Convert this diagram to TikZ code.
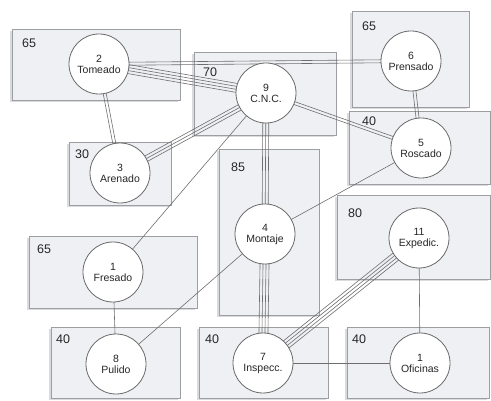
\documentclass[tikz,border=0pt]{standalone}
\usepackage{fontspec}
\setmainfont{Liberation Sans}
\usetikzlibrary{calc}
\pgfdeclarelayer{boxes}
\pgfdeclarelayer{links}
\pgfsetlayers{boxes,links,main}
\definecolor{boxfill}{HTML}{EEF0F3}
\definecolor{boxline}{HTML}{9C9EA2}
\definecolor{boxshade}{HTML}{D9DBDE}
\definecolor{linkgray}{HTML}{6E6E6E}
\definecolor{ringgray}{HTML}{6A6A6A}
\tikzset{
  area/.style={draw=boxline, fill=boxfill, line width=0.8pt},
  areashade/.style={fill=boxshade},
  arealabel/.style={anchor=base west, inner sep=0pt, text=black!85,
    font=\fontsize{12.5}{14}\selectfont},
  station/.style={circle, draw=ringgray, fill=white, line width=0.8pt,
    minimum size=60pt, inner sep=0pt, align=center, text=black!85,
    font=\fontsize{10.5}{11}\selectfont},
  link/.style={draw=linkgray, line width=0.6pt},
}
% a bundle of parallel links between two stations, one per offset
\newcommand\bundle[3]{%
  \foreach \o in {#1}{%
    \draw[link] ($(#2)!\o pt!90:(#3)$) -- ($(#3)!\o pt!-90:(#2)$);
  }%
}
% a department area with its drop shade
\newcommand\area[4]{%
  \fill[areashade] (#1-2,#2+2.5) rectangle (#3-2,#4+2.5);
  \draw[area] (#1,#2) rectangle (#3,#4);
}
\begin{document}
\begin{tikzpicture}[x=1pt,y=-1pt]
\useasboundingbox (0,0) rectangle (491,401);

% department areas
\begin{pgfonlayer}{boxes}
  \area{12}{29}{180}{100}
  \area{194}{52}{336}{135}
  \area{69}{142}{171}{205}
  \area{219}{149}{319}{315}
  \area{352}{11}{469}{107}
  \area{349}{111}{490}{184}
  \area{337}{195}{490}{279}
  \area{29}{236}{197}{308}
  \area{51}{327}{180}{398}
  \area{199}{327}{328}{398}
  \area{347}{327}{489}{398}
  \node[arealabel] (l65a) at (22,48)  {65};
  \node[arealabel] (l70)  at (203,77) {70};
  \node[arealabel] (l30)  at (75,159) {30};
  \node[arealabel] (l85)  at (231,172) {85};
  \node[arealabel] (l65b) at (362,31) {65};
  \node[arealabel] (l40a) at (362,126) {40};
  \node[arealabel] (l80)  at (348,218) {80};
  \node[arealabel] (l65c) at (37,254) {65};
  \node[arealabel] (l40b) at (56,344) {40};
  \node[arealabel] (l40c) at (205,344) {40};
  \node[arealabel] (l40d) at (352,344) {40};
\end{pgfonlayer}

% stations
\node[station] (tom) at (99,64)   {2\\Tomeado};
\node[station] (cnc) at (266,93)  {9\\C.N.C.};
\node[station] (are) at (120,173) {3\\Arenado};
\node[station] (pre) at (411,61)  {6\\Prensado};
\node[station] (ros) at (421,148) {5\\Roscado};
\node[station] (mon) at (265,234) {4\\Montaje};
\node[station] (fre) at (113,272) {1\\Fresado};
\node[station] (pul) at (116,364) {8\\Pulido};
\node[station] (ins) at (263,363) {7\\Inspecc.};
\node[station] (exp) at (419,238) {11\\Expedic.};
\node[station] (ofi) at (420,363) {1\\Oficinas};

% links, drawn centre to centre beneath the stations
\begin{pgfonlayer}{links}
  \bundle{-4.5,-1.5,1.5,4.5}{tom}{cnc}
  \bundle{-1.5,1.5}{tom}{pre}
  \bundle{-1.5,1.5}{tom}{are}
  \bundle{-3,0,3}{cnc}{are}
  \bundle{-1.5,1.5}{cnc}{ros}
  \bundle{0}{cnc}{fre}
  \bundle{-3,0,3}{cnc}{mon}
  \bundle{-1.5,1.5}{pre}{ros}
  \bundle{0}{ros}{mon}
  \bundle{0}{mon}{pul}
  \bundle{-4.5,-1.5,1.5,4.5}{mon}{ins}
  \bundle{0}{fre}{pul}
  \bundle{-4.5,-1.5,1.5,4.5}{ins}{exp}
  \bundle{0}{ins}{ofi}
  \bundle{0}{exp}{ofi}
\end{pgfonlayer}
\end{tikzpicture}
\end{document}
